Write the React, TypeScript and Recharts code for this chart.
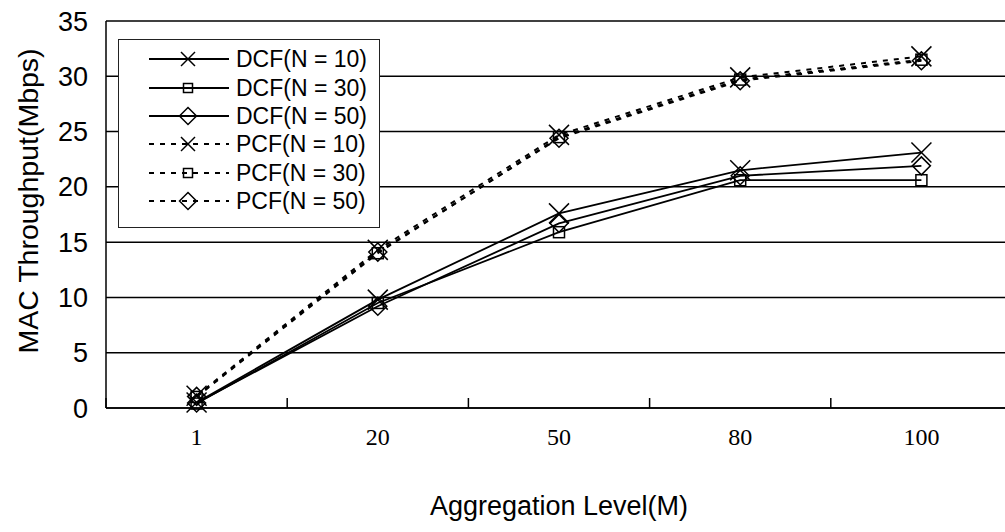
import React from "react";
import { LineChart, Line, XAxis, YAxis, CartesianGrid, Legend } from "recharts";

const categories = ["1", "20", "50", "80", "100"];
const dcf10 = [0.5, 9.8, 17.6, 21.5, 23.1];
const dcf30 = [0.4, 9.5, 15.9, 20.6, 20.6];
const dcf50 = [0.45, 9.2, 16.7, 21.0, 21.9];
const pcf10 = [1.1, 14.3, 24.7, 29.9, 31.8];
const pcf30 = [1.0, 14.0, 24.5, 29.7, 31.5];
const pcf50 = [1.05, 14.1, 24.4, 29.6, 31.4];
const yTicks = [0, 5, 10, 15, 20, 25, 30, 35];

const series = [
  { key: "dcf10", name: "DCF(N = 10)", kind: "x", dashed: false },
  { key: "dcf30", name: "DCF(N = 30)", kind: "square", dashed: false },
  { key: "dcf50", name: "DCF(N = 50)", kind: "diamond", dashed: false },
  { key: "pcf10", name: "PCF(N = 10)", kind: "x", dashed: true },
  { key: "pcf30", name: "PCF(N = 30)", kind: "square", dashed: true },
  { key: "pcf50", name: "PCF(N = 50)", kind: "diamond", dashed: true },
];

const data = categories.map((label, i) => ({
  pos: i + 0.5,
  label,
  dcf10: dcf10[i],
  dcf30: dcf30[i],
  dcf50: dcf50[i],
  pcf10: pcf10[i],
  pcf30: pcf30[i],
  pcf50: pcf50[i],
}));

const labelTicks = categories.map((_, i) => i + 0.5);
const boundTicks = [...categories.map((_, i) => i), categories.length];

const SANS = "'Liberation Sans', Arial, sans-serif";
const SERIF = "'Liberation Serif', 'Times New Roman', serif";
const DASH = "5 6";

function Marker({ cx, cy, kind, legend }: { cx: number; cy: number; kind: string; legend?: boolean }) {
  const s = { stroke: "#000", strokeWidth: 1.5, fill: "none" };
  if (kind === "x") {
    const r = legend ? 7 : 10;
    return (
      <g>
        <line x1={cx - r} y1={cy - r} x2={cx + r} y2={cy + r} {...s} />
        <line x1={cx - r} y1={cy + r} x2={cx + r} y2={cy - r} {...s} />
      </g>
    );
  }
  if (kind === "square") {
    const r = legend ? 4.5 : 5.5;
    return <rect x={cx - r} y={cy - r} width={r * 2} height={r * 2} {...s} />;
  }
  const r = legend ? 8.5 : 9;
  return <polygon points={`${cx},${cy - r} ${cx + r},${cy} ${cx},${cy + r} ${cx - r},${cy}`} {...s} />;
}

function LegendBox() {
  return (
    <div
      style={{
        border: "1.5px solid #222",
        background: "#fff",
        boxSizing: "border-box",
        width: 262,
        height: 189,
        paddingTop: 5,
      }}
    >
      {series.map((s) => (
        <div key={s.key} style={{ display: "flex", alignItems: "center", height: 28.4 }}>
          <svg width={112} height={28} style={{ display: "block" }}>
            <line
              x1={30}
              x2={110}
              y1={14}
              y2={14}
              stroke="#000"
              strokeWidth={1.8}
              strokeDasharray={s.dashed ? DASH : undefined}
            />
            <Marker cx={69} cy={14} kind={s.kind} legend />
          </svg>
          <span style={{ fontFamily: SANS, fontSize: 23, color: "#000", marginLeft: 5, lineHeight: "28px" }}>
            {s.name}
          </span>
        </div>
      ))}
    </div>
  );
}

export default function App() {
  return (
    <div style={{ position: "absolute", left: 0, top: 0, width: 1005, height: 532, overflow: "hidden", background: "#fff" }}>
      <LineChart width={1016} height={532} data={data} margin={{ top: 21, right: 4, left: 0, bottom: 0 }}>
        <CartesianGrid vertical={false} stroke="#000" strokeWidth={1.5} />
        {/* tick marks sit on category boundaries, pointing up into the plot */}
        <XAxis
          xAxisId="bounds"
          dataKey="pos"
          type="number"
          domain={[0, categories.length]}
          ticks={boundTicks}
          tick={() => <g />}
          mirror
          tickSize={10}
          height={1}
          axisLine={{ stroke: "#000", strokeWidth: 1.5 }}
          tickLine={{ stroke: "#000", strokeWidth: 1.5 }}
        />
        <XAxis
          dataKey="pos"
          type="number"
          domain={[0, categories.length]}
          ticks={labelTicks}
          tickFormatter={(v: number) => categories[Math.floor(v)]}
          height={124}
          axisLine={false}
          tickLine={false}
          tickSize={0}
          tickMargin={20}
          tick={{ fill: "#000", fontSize: 24, fontFamily: SERIF }}
          label={{
            value: "Aggregation Level(M)",
            position: "insideBottom",
            offset: 17,
            fill: "#000",
            fontSize: 27,
            fontFamily: SANS,
          }}
        />
        <YAxis
          domain={[0, 35]}
          ticks={yTicks}
          width={106}
          axisLine={{ stroke: "#000", strokeWidth: 1.5 }}
          tickLine={false}
          tickSize={6}
          tickMargin={12}
          tick={{ fill: "#000", fontSize: 27, fontFamily: SANS }}
          label={{
            content: ({ viewBox }: any) => {
              const cx = viewBox.x + 28;
              const cy = viewBox.y + 180;
              return (
                <text
                  x={cx}
                  y={cy}
                  transform={`rotate(-90, ${cx}, ${cy})`}
                  textAnchor="middle"
                  dominantBaseline="central"
                  fill="#000"
                  fontSize={28.5}
                  fontFamily={SANS}
                >
                  MAC Throughput(Mbps)
                </text>
              );
            },
          }}
        />
        <Legend
          layout="horizontal"
          verticalAlign="middle"
          align="center"
          wrapperStyle={{ left: 118, top: 39, width: 262, height: 189 }}
          content={() => <LegendBox />}
        />
        {series.map((s) => (
          <Line
            key={s.key}
            dataKey={s.key}
            name={s.name}
            stroke="#000"
            strokeWidth={s.dashed ? 2 : 1.8}
            strokeDasharray={s.dashed ? DASH : undefined}
            isAnimationActive={false}
            dot={(p: any) => <Marker key={`${s.key}-${p.index}`} cx={p.cx} cy={p.cy} kind={s.kind} />}
            activeDot={false}
          />
        ))}
      </LineChart>
    </div>
  );
}
